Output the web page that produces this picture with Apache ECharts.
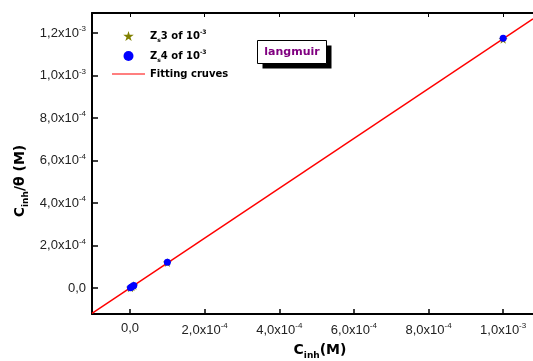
<!DOCTYPE html>
<html><head><meta charset="utf-8">
<script src="https://cdn.jsdelivr.net/npm/echarts@6/dist/echarts.min.js"></script>
<style>html,body{margin:0;padding:0;background:#fff}#c{width:533px;height:361px}</style>
</head><body><div id="c"></div>
<script>
// ---- data ----
var xZs3 = [1e-6, 5e-6, 1e-5, 1e-4, 1e-3];
var yZs3 = [1.2e-6, 5.9e-6, 1.17e-5, 1.2e-4, 1.17e-3];
var xZs4 = [1e-6, 5e-6, 1e-5, 1e-4, 1e-3];
var yZs4 = [1.2e-6, 5.9e-6, 1.18e-5, 1.22e-4, 1.175e-3];
var fitX = [-1.02e-4, 1.08e-3];
var fitY = [-1.19e-4, 1.266e-3];
var xTickValues = [0, 2e-4, 4e-4, 6e-4, 8e-4, 1e-3];
var xTickMant = ['0,0', '2,0', '4,0', '6,0', '8,0', '1,0'];
var xTickExp = ['', '-4', '-4', '-4', '-4', '-3'];
var yTickValues = [0, 2e-4, 4e-4, 6e-4, 8e-4, 1e-3, 1.2e-3];
var yTickMant = ['0,0', '2,0', '4,0', '6,0', '8,0', '1,0', '1,2'];
var yTickExp = ['', '-4', '-4', '-4', '-4', '-3', '-3'];
var seriesNames = ['Zs3 of 10-3', 'Zs4 of 10-3', 'Fitting cruves'];

function pairs(xs, ys){ return xs.map(function(x,i){return [x, ys[i]];}); }
function tickFmt(vals, mant, exp){
  return function(v){
    for (var i=0;i<vals.length;i++){
      if (Math.abs(v-vals[i]) < 1e-9){
        return exp[i] ? '{n|'+mant[i]+'x10}{sup|'+exp[i]+'}' : '{n|'+mant[i]+'}';
      }
    }
    return '';
  };
}
var FF = 'Liberation Sans, Arial, sans-serif';
var FB = 'DejaVu Sans, sans-serif';
var tickRich = {
  n:{fontSize:13, color:'#222', fontFamily:FF},
  sup:{fontSize:8, color:'#222', fontFamily:FF, verticalAlign:'top', padding:[0,0,8,0]}
};
var titleRich = {
  b:{fontFamily:FB, fontWeight:'bold', fontSize:14, color:'#000'},
  sub:{fontFamily:FB, fontWeight:'bold', fontSize:9, color:'#000', verticalAlign:'bottom', padding:[12,0,0,0]}
};
var star = 'path://M50,0 L61,35 L98,35 L68,57 L79,91 L50,70 L21,91 L32,57 L2,35 L39,35 Z';
var lineIcon = 'path://M0,0 L60,0 L60,2 L0,2 Z';

var chart = echarts.init(document.getElementById('c'), null, {renderer:'canvas'});
var XMIN = -1.02e-4, XMAX = 1.08e-3, YMIN = -1.22e-4, YMAX = 1.294e-3;
chart.setOption({
  animation:false,
  backgroundColor:'#fff',
  grid:{left:92, top:13, right:0, bottom:47},
  legend:{
    left:107, top:24, orient:'vertical', itemWidth:33, itemHeight:10, itemGap:6,
    data:[{name:seriesNames[0], icon:star},{name:seriesNames[1], icon:'circle'},{name:seriesNames[2], icon:lineIcon}],
    formatter:function(name){
      if (name === seriesNames[2]) return '{b|Fitting cruves}';
      var d = name === seriesNames[0] ? '3' : '4';
      return '{b|Z}{sub|s}{b|'+d+' of 10}{sup|-3}';
    },
    textStyle:{
      fontFamily:FB, fontWeight:'bold', fontSize:10, color:'#000',
      rich:{
        b:{fontFamily:FB, fontWeight:'bold', fontSize:10, color:'#000'},
        sub:{fontFamily:FB, fontWeight:'bold', fontSize:6, color:'#000', verticalAlign:'bottom', padding:[8,0,0,0]},
        sup:{fontFamily:FB, fontWeight:'bold', fontSize:6, color:'#000', verticalAlign:'top', padding:[0,0,6,0]}
      }
    }
  },
  xAxis:[{
    type:'value', min:XMIN, max:XMAX, position:'bottom',
    axisLine:{show:true, onZero:false, lineStyle:{color:'#000', width:2}},
    axisTick:{show:true, inside:true, length:5, customValues:xTickValues, lineStyle:{color:'#000', width:1.5}},
    axisLabel:{customValues:xTickValues, formatter:tickFmt(xTickValues, xTickMant, xTickExp), rich:tickRich, margin:8},
    splitLine:{show:false}
  },{
    type:'value', min:XMIN, max:XMAX, position:'top',
    axisLine:{show:true, onZero:false, lineStyle:{color:'#000', width:2}},
    axisTick:{show:true, inside:true, length:4, customValues:xTickValues, lineStyle:{color:'#000', width:1}},
    axisLabel:{show:false}, splitLine:{show:false}
  }],
  yAxis:[{
    type:'value', min:YMIN, max:YMAX,
    axisLine:{show:true, onZero:false, lineStyle:{color:'#000', width:2}},
    axisTick:{show:true, inside:true, length:6, customValues:yTickValues, lineStyle:{color:'#000', width:1.5}},
    axisLabel:{customValues:yTickValues, formatter:tickFmt(yTickValues, yTickMant, yTickExp), rich:tickRich, margin:6},
    splitLine:{show:false}
  }],
  series:[{
    name:seriesNames[2], type:'line', data:pairs(fitX, fitY), symbol:'none',
    lineStyle:{color:'#ff0000', width:1.5}, itemStyle:{color:'#ff0000', opacity:1}, z:3
  },{
    name:seriesNames[0], type:'scatter', data:pairs(xZs3, yZs3), symbol:star, symbolSize:9,
    itemStyle:{color:'#808000', opacity:1}, z:4
  },{
    name:seriesNames[1], type:'scatter', data:pairs(xZs4, yZs4), symbol:'circle', symbolSize:7,
    itemStyle:{color:'#0000ff', opacity:1}, z:5
  }],
  graphic:[{
    type:'group', left:257, top:40,
    children:[
      {type:'rect', shape:{x:5, y:5, width:69, height:23}, style:{fill:'#000'}},
      {type:'rect', shape:{x:0, y:0, width:69, height:23}, style:{fill:'#fff', stroke:'#000', lineWidth:1}},
      {type:'text', x:34.5, y:11.5, style:{text:'langmuir', fill:'#800080', font:'bold 11px DejaVu Sans, sans-serif', align:'center', verticalAlign:'middle'}}
    ]
  },{
    type:'text', x:320, y:350,
    style:{text:'{b|C}{sub|inh}{b|(M)}', rich:titleRich, align:'center', verticalAlign:'middle'}
  },{
    type:'text', x:20, y:181, rotation:Math.PI/2,
    style:{text:'{b|C}{sub|inh}{b|/θ (M)}', rich:titleRich, align:'center', verticalAlign:'middle'}
  }]
});
</script></body></html>
